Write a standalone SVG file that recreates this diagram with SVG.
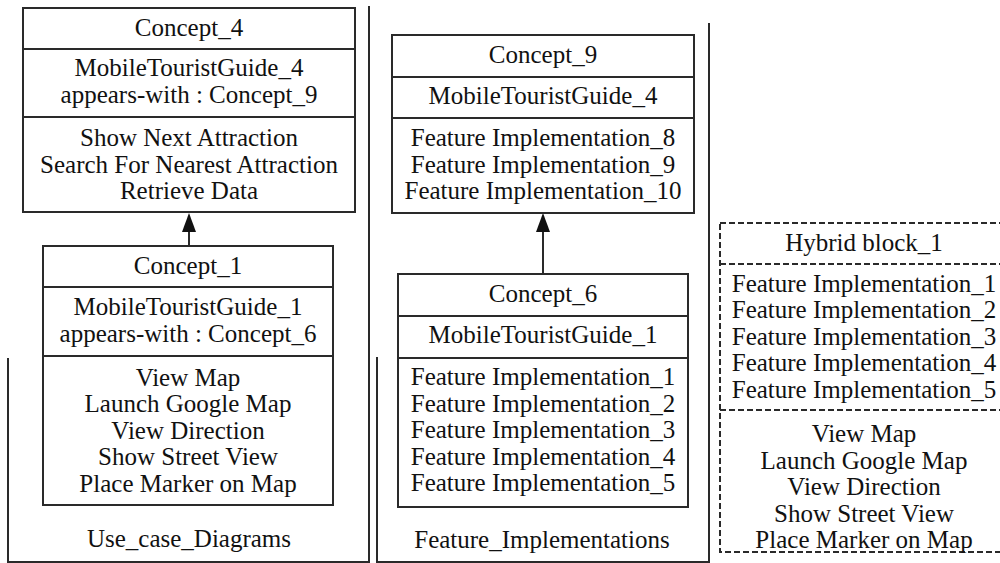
<svg xmlns="http://www.w3.org/2000/svg" width="1000" height="563" viewBox="0 0 1000 563">
<defs>
<style>
text{font-family:"Liberation Serif","Times New Roman",serif;font-size:25px;fill:#111;text-anchor:middle}
.box{fill:none;stroke:#2a2a2a;stroke-width:2}
.dash{fill:none;stroke:#2a2a2a;stroke-width:2;stroke-dasharray:6 3}
.frame{fill:none;stroke:#2a2a2a;stroke-width:2}
.conn{stroke:#2a2a2a;stroke-width:2;fill:none}
.head{fill:#111;stroke:none}
</style>
</defs>
<rect width="1000" height="563" fill="#fff"/>
<g id="frame_use_case">
<polyline class="frame" points="8,358 8,562 369,562 369,6"/>
<text x="189" y="547">Use_case_Diagrams</text>
</g>
<g id="frame_feature_impl">
<polyline class="frame" points="377,357 377,562 709,562 709,23"/>
<text x="542" y="548">Feature_Implementations</text>
</g>
<g id="connectors">
<line class="conn" x1="189" y1="246" x2="189" y2="230"/>
<polygon class="head" points="189,213 182,232 196,232"/>
<line class="conn" x1="543" y1="274" x2="543" y2="230"/>
<polygon class="head" points="543,213 536,232 550,232"/>
</g>
<g id="concept_4">
<rect class="box" x="23" y="8" width="332" height="204"/>
<line class="box" x1="23" y1="49" x2="355" y2="49"/>
<line class="box" x1="23" y1="117" x2="355" y2="117"/>
<text x="189" y="36">Concept_4</text>
<text x="189" y="76">MobileTouristGuide_4</text>
<text x="189" y="103">appears-with : Concept_9</text>
<text x="189" y="146">Show Next Attraction</text>
<text x="189" y="172.5">Search For Nearest Attraction</text>
<text x="189" y="199">Retrieve Data</text>
</g>
<g id="concept_1">
<rect class="box" x="43" y="246" width="290" height="259"/>
<line class="box" x1="43" y1="287" x2="333" y2="287"/>
<line class="box" x1="43" y1="356" x2="333" y2="356"/>
<text x="188" y="274">Concept_1</text>
<text x="188" y="315">MobileTouristGuide_1</text>
<text x="188" y="342">appears-with : Concept_6</text>
<text x="188" y="385.5">View Map</text>
<text x="188" y="412">Launch Google Map</text>
<text x="188" y="438.5">View Direction</text>
<text x="188" y="465">Show Street View</text>
<text x="188" y="491.5">Place Marker on Map</text>
</g>
<g id="concept_9">
<rect class="box" x="392" y="35" width="302" height="178"/>
<line class="box" x1="392" y1="77" x2="694" y2="77"/>
<line class="box" x1="392" y1="118" x2="694" y2="118"/>
<text x="543" y="63">Concept_9</text>
<text x="543" y="104">MobileTouristGuide_4</text>
<text x="543" y="146">Feature Implementation_8</text>
<text x="543" y="172.5">Feature Implementation_9</text>
<text x="543" y="199">Feature Implementation_10</text>
</g>
<g id="concept_6">
<rect class="box" x="398" y="274" width="290" height="233"/>
<line class="box" x1="398" y1="316" x2="688" y2="316"/>
<line class="box" x1="398" y1="358" x2="688" y2="358"/>
<text x="543" y="302">Concept_6</text>
<text x="543" y="343">MobileTouristGuide_1</text>
<text x="543" y="385">Feature Implementation_1</text>
<text x="543" y="411.5">Feature Implementation_2</text>
<text x="543" y="438">Feature Implementation_3</text>
<text x="543" y="464.5">Feature Implementation_4</text>
<text x="543" y="491">Feature Implementation_5</text>
</g>
<g id="hybrid_block_1">
<rect class="dash" x="720" y="223" width="300" height="329"/>
<line class="dash" x1="720" y1="264" x2="1020" y2="264"/>
<line class="dash" x1="720" y1="410" x2="1020" y2="410"/>
<text x="864" y="251">Hybrid block_1</text>
<text x="864" y="291.5">Feature Implementation_1</text>
<text x="864" y="318">Feature Implementation_2</text>
<text x="864" y="344.5">Feature Implementation_3</text>
<text x="864" y="371">Feature Implementation_4</text>
<text x="864" y="397.5">Feature Implementation_5</text>
<text x="864" y="442">View Map</text>
<text x="864" y="468.5">Launch Google Map</text>
<text x="864" y="495">View Direction</text>
<text x="864" y="521.5">Show Street View</text>
<text x="864" y="548">Place Marker on Map</text>
</g>
</svg>
